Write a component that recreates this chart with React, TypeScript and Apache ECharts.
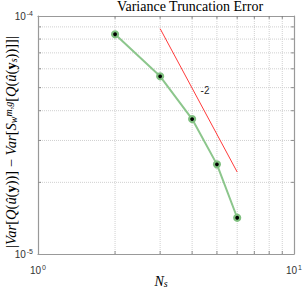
import React, { useEffect, useRef } from "react";
import * as echarts from "echarts";

const ns = [2, 3, 4, 5, 6];
const errValues = [8.38e-5, 5.58e-5, 3.69e-5, 2.38e-5, 1.42e-5];
const slopeX = [3, 6];
const slopeY = [8.85e-5, 2.21e-5];
const slopeLabel = "-2";
const xGrid = [2, 3, 4, 5, 6, 7, 8, 9];
const yGrid = [2e-5, 3e-5, 4e-5, 5e-5, 6e-5, 7e-5, 8e-5, 9e-5];
const titleText = "Variance Truncation Error";

const SERIF = "'Liberation Serif', 'DejaVu Serif', serif";
const SANS = "'Liberation Sans', Arial, sans-serif";

export default function App() {
  const ref = useRef<HTMLDivElement>(null);
  useEffect(() => {
    if (!ref.current) return;
    const chart = echarts.init(ref.current, null, { renderer: "svg" });
    const supFmt = (v: number) => {
      const e = Math.round(Math.log10(v));
      return "{b|10}{s|" + e + "}";
    };
    const labelRich = {
      b: { fontSize: 10, fontFamily: SANS, color: "#333" },
      s: { fontSize: 7, fontFamily: SANS, color: "#333", verticalAlign: "top", padding: [0, 0, 6, 1] },
    };
    const axisLine = { show: true, lineStyle: { color: "#999", width: 1.2 } };
    const ticksBottom = xGrid.map((x) => [x, 1e-5]);
    const ticksTop = xGrid.map((x) => [x, 1e-4]);
    const ticksLeft = yGrid.map((y) => [1, y]);
    const ticksRight = yGrid.map((y) => [10, y]);
    const tickSeries = (data: number[][], size: number[], offset: number[]) => ({
      type: "scatter",
      data,
      symbol: "rect",
      symbolSize: size,
      symbolOffset: offset,
      itemStyle: { color: "#777" },
      silent: true,
      z: 1,
    });
    const gridLine = (data: number[][]) => ({
      type: "line",
      data,
      symbol: "none",
      silent: true,
      lineStyle: { color: "#d0d0d0", type: "dotted", width: 1 },
      z: 0,
    });
    chart.setOption({
      animation: false,
      grid: { left: 38, right: 10, top: 16, bottom: 36 },
      xAxis: [
        {
          type: "log",
          logBase: 10,
          min: 1,
          max: 10,
          axisLine,
          axisTick: { show: false },
          splitLine: { show: false },
          axisLabel: { formatter: supFmt, rich: labelRich, margin: 10 },
        },
        {
          type: "log",
          position: "top",
          min: 1,
          max: 10,
          axisLine,
          axisTick: { show: false },
          splitLine: { show: false },
          axisLabel: { show: false },
        },
      ],
      yAxis: [
        {
          type: "log",
          logBase: 10,
          min: 1e-5,
          max: 1e-4,
          axisLine,
          axisTick: { show: false },
          splitLine: { show: false },
          axisLabel: { formatter: supFmt, rich: labelRich, margin: 5 },
        },
        {
          type: "log",
          position: "right",
          min: 1e-5,
          max: 1e-4,
          axisLine,
          axisTick: { show: false },
          splitLine: { show: false },
          axisLabel: { show: false },
        },
      ],
      series: [
        ...xGrid.map((x) => gridLine([[x, 1e-5], [x, 1e-4]])),
        ...yGrid.map((y) => gridLine([[1, y], [10, y]])),
        tickSeries(ticksBottom, [1, 3], [0, -1.5]),
        tickSeries(ticksTop, [1, 3], [0, 1.5]),
        tickSeries(ticksLeft, [3, 1], [1.5, 0]),
        tickSeries(ticksRight, [3, 1], [-1.5, 0]),
        {
          type: "line",
          data: slopeX.map((x, i) => [x, slopeY[i]]),
          symbol: "none",
          lineStyle: { color: "#ff3b3b", width: 1 },
          z: 3,
        },
        {
          type: "line",
          data: ns.map((x, i) => [x, errValues[i]]),
          symbol: "circle",
          symbolSize: 6,
          itemStyle: { color: "#000", borderColor: "#7fbf7f", borderWidth: 2.2 },
          lineStyle: { color: "#8cc68c", width: 2 },
          z: 4,
        },
      ],
      graphic: [
        {
          type: "text",
          x: 190,
          y: -1,
          style: { text: titleText, font: "14px " + SERIF, fill: "#000", align: "center", verticalAlign: "top" },
        },
        {
          type: "text",
          x: 205,
          y: 90,
          style: { text: slopeLabel, font: "10px " + SANS, fill: "#222", align: "center", verticalAlign: "middle" },
        },
        {
          type: "text",
          x: 161,
          y: 281,
          style: {
            text: "{i|N}{sub|s}",
            align: "center",
            verticalAlign: "middle",
            rich: {
              i: { fontSize: 14, fontFamily: SERIF, fontStyle: "italic", fill: "#000" },
              sub: { fontSize: 10, fontFamily: SERIF, fontStyle: "italic", fill: "#000", verticalAlign: "bottom" },
            },
          },
        },
        {
          type: "text",
          x: 11,
          y: 142,
          rotation: Math.PI / 2,
          style: {
            text:
              "{n||}{i|Var}{n|[}{i|Q}{n|(}{i|û}{n|(}{b|y}{n|))] − }{i|Var}{n|[}{i|S}{sub|w}{sup|m,g}{n|[}{i|Q}{n|(}{i|û}{n|(}{b|y}{sub|s}{n|))]]|}",
            align: "center",
            verticalAlign: "middle",
            rich: {
              n: { fontSize: 14.5, fontFamily: SERIF, fill: "#000" },
              i: { fontSize: 14.5, fontFamily: SERIF, fontStyle: "italic", fill: "#000" },
              b: { fontSize: 14.5, fontFamily: SERIF, fontWeight: "bold", fill: "#000" },
              sub: { fontSize: 10, fontFamily: SERIF, fontStyle: "italic", fill: "#000", verticalAlign: "bottom" },
              sup: { fontSize: 10, fontFamily: SERIF, fontStyle: "italic", fill: "#000", verticalAlign: "top" },
            },
          },
        },
      ],
    });
    return () => chart.dispose();
  }, []);
  return (
    <div
      ref={ref}
      style={{ width: 305, height: 290, position: "fixed", left: 0, top: 0, background: "#fff" }}
    />
  );
}
